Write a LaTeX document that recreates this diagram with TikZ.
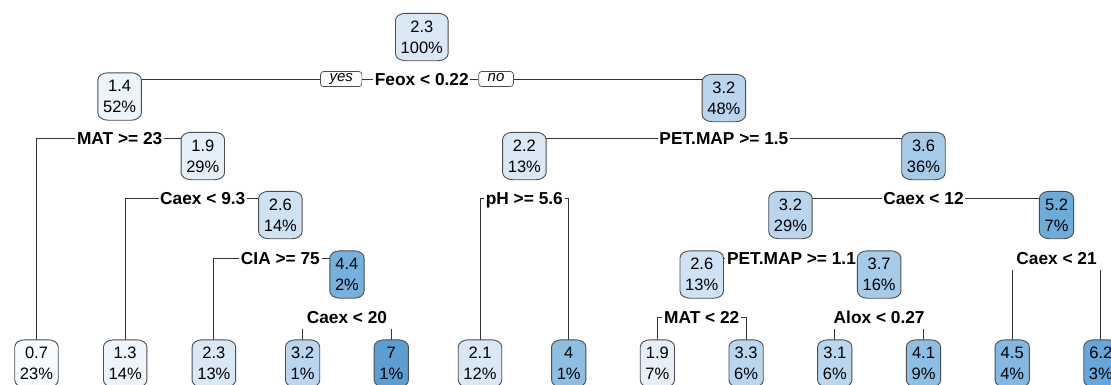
\documentclass[tikz,border=0pt]{standalone}
\usepackage{fontspec}
\setmainfont{Liberation Sans}
\usetikzlibrary{calc}
\pgfdeclarelayer{edges}
\pgfdeclarelayer{labels}
\pgfdeclarelayer{boxes}
\pgfsetlayers{edges,labels,boxes,main}
\definecolor{cA}{HTML}{F8FBFE}
\definecolor{cB}{HTML}{EDF4FB}
\definecolor{cC}{HTML}{E4EFF9}
\definecolor{cD}{HTML}{DAE8F6}
\definecolor{cE}{HTML}{CFE2F3}
\definecolor{cF}{HTML}{BAD6EE}
\definecolor{cG}{HTML}{A5CBE9}
\definecolor{cH}{HTML}{8DBFE4}
\definecolor{cI}{HTML}{82B8E1}
\definecolor{cM}{HTML}{76B0DD}
\definecolor{cJ}{HTML}{6DABDA}
\definecolor{cK}{HTML}{67A6D8}
\definecolor{cL}{HTML}{5C9DD2}
\definecolor{edgec}{HTML}{333333}
\definecolor{boxc}{HTML}{4D4D4D}
\tikzset{
  nd/.style={inner xsep=5pt, inner ysep=0pt, minimum height=47pt, align=center,
    font=\fontsize{16.5}{21}\selectfont},
  bx/.style={draw=boxc, line width=0.9pt},
  sp/.style={font=\bfseries\fontsize{17.3}{20}\selectfont, inner sep=1.5pt,
    text height=12.4pt, text depth=0pt},
  yn/.style={draw=boxc, line width=0.7pt, fill=white, rounded corners=3pt,
    font=\itshape\fontsize{15}{16}\selectfont, inner xsep=9pt, inner ysep=0pt,
    minimum height=15pt, text height=8pt, text depth=3pt},
  br/.style={draw=edgec, line width=0.9pt}
}
\newcommand\tn[5]{%
  \node[nd] (#1) at (#2,#3) {#5};
  \begin{pgfonlayer}{boxes}
  \draw[bx,fill=#4] ([yshift=-7pt]#1.north west)
     arc[start angle=180,end angle=90,x radius=10pt,y radius=7pt]
     -- ([xshift=-10pt]#1.north east)
     arc[start angle=90,end angle=0,x radius=10pt,y radius=7pt]
     -- ([yshift=7pt]#1.south east)
     arc[start angle=0,end angle=-90,x radius=10pt,y radius=7pt]
     -- ([xshift=10pt]#1.south west)
     arc[start angle=270,end angle=180,x radius=10pt,y radius=7pt]
     -- cycle;
  \end{pgfonlayer}}
\begin{document}
\begin{tikzpicture}[x=1pt,y=-1pt]
\useasboundingbox (0,0) rectangle (1111,384);
% split labels
\begin{pgfonlayer}{labels}
\node[sp] (sFeox) at (421.8,79) {Feox < 0.22};
\node[sp] (sMAT23) at (119.65,138.5) {MAT >= 23};
\node[sp] (sPET15) at (723.9,138.5) {PET.MAP >= 1.5};
\node[sp] (sCa93) at (202.8,198) {Caex < 9.3};
\node[sp] (spH) at (524.35,198) {pH >= 5.6};
\node[sp] (sCa12) at (923.5,198) {Caex < 12};
\node[sp] (sCIA) at (280.4,258) {CIA >= 75};
\node[sp] (sPET11) at (791.5,258) {PET.MAP >= 1.1};
\node[sp] (sCa21) at (1056.55,258) {Caex < 21};
\node[sp] (sCa20) at (346.95,317) {Caex < 20};
\node[sp] (sMAT22) at (701.75,317) {MAT < 22};
\node[sp] (sAlox) at (879.15,317) {Alox < 0.27};
\end{pgfonlayer}
\node[yn, anchor=east] (yes) at ([xshift=-11pt]sFeox.west) {yes};
\node[yn, anchor=west] (no) at ([xshift=8pt]sFeox.east) {no};
% internal nodes
\tn{root}{421.8}{37}{cD}{2.3\\100\%}
\tn{n14}{119.65}{96.5}{cB}{1.4\\52\%}
\tn{n32a}{723.9}{98}{cF}{3.2\\48\%}
\tn{n19}{202.8}{156}{cC}{1.9\\29\%}
\tn{n22}{524.35}{156}{cD}{2.2\\13\%}
\tn{n36}{923.5}{156}{cG}{3.6\\36\%}
\tn{n26a}{280.4}{215}{cE}{2.6\\14\%}
\tn{n32b}{790.45}{215}{cF}{3.2\\29\%}
\tn{n52}{1056.55}{215}{cJ}{5.2\\7\%}
\tn{n44}{346.95}{274.5}{cM}{4.4\\2\%}
\tn{n26b}{701.75}{274.5}{cE}{2.6\\13\%}
\tn{n37}{879.15}{274.5}{cG}{3.7\\16\%}
% leaves
\tn{l1}{36.5}{363.5}{cA}{0.7\\23\%}
\tn{l2}{125.2}{363.5}{cB}{1.3\\14\%}
\tn{l3}{213.9}{363.5}{cD}{2.3\\13\%}
\tn{l4}{302.6}{363.5}{cF}{3.2\\1\%}
\tn{l5}{391.3}{363.5}{cL}{7\\1\%}
\tn{l6}{480.0}{363.5}{cD}{2.1\\12\%}
\tn{l7}{568.7}{363.5}{cH}{4\\1\%}
\tn{l8}{657.4}{363.5}{cC}{1.9\\7\%}
\tn{l9}{746.1}{363.5}{cF}{3.3\\6\%}
\tn{l10}{834.8}{363.5}{cF}{3.1\\6\%}
\tn{l11}{923.5}{363.5}{cH}{4.1\\9\%}
\tn{l12}{1012.2}{363.5}{cI}{4.5\\4\%}
\tn{l13}{1100.9}{363.5}{cK}{6.2\\3\%}
\coordinate (b20) at ([yshift=-4pt]sCa20.south);
\coordinate (b21) at ([yshift=-4pt]sCa21.south);
\coordinate (bAl) at ([yshift=-4pt]sAlox.south);
\begin{pgfonlayer}{edges}
\fill[white] (0,0) rectangle (1111,384);
\draw[br] (yes.west) -- (yes.west -| n14.center);
\draw[br] (yes.east) -- (sFeox.west);
\draw[br] (sFeox.east) -- (no.west);
\draw[br] (no.east) -| (n32a.center);
\draw[br] (sMAT23.west) -| (l1.center);
\draw[br] (sMAT23.east) -| (n19.center);
\draw[br] (sPET15.west) -| (n22.center);
\draw[br] (sPET15.east) -| (n36.center);
\draw[br] (sCa93.west) -| (l2.center);
\draw[br] (sCa93.east) -| (n26a.center);
\draw[br] (spH.west) -| (l6.center);
\draw[br] (spH.east) -| (l7.center);
\draw[br] (sCa12.west) -| (n32b.center);
\draw[br] (sCa12.east) -| (n52.center);
\draw[br] (sCIA.west) -| (l3.center);
\draw[br] (sCIA.east) -| (n44.center);
\draw[br] (sPET11.west) -| (n26b.center);
\draw[br] (sPET11.east) -| (n37.center);
\draw[br] (sMAT22.west) -| (l8.center);
\draw[br] (sMAT22.east) -| (l9.center);
\draw[br] (b20 -| l4.center) -- (l4.center);
\draw[br] (b20 -| l5.center) -- (l5.center);
\draw[br] (bAl -| l10.center) -- (l10.center);
\draw[br] (bAl -| l11.center) -- (l11.center);
\draw[br] (b21 -| l12.center) -- (l12.center);
\draw[br] (b21 -| l13.center) -- (l13.center);
\end{pgfonlayer}
\end{tikzpicture}
\end{document}
